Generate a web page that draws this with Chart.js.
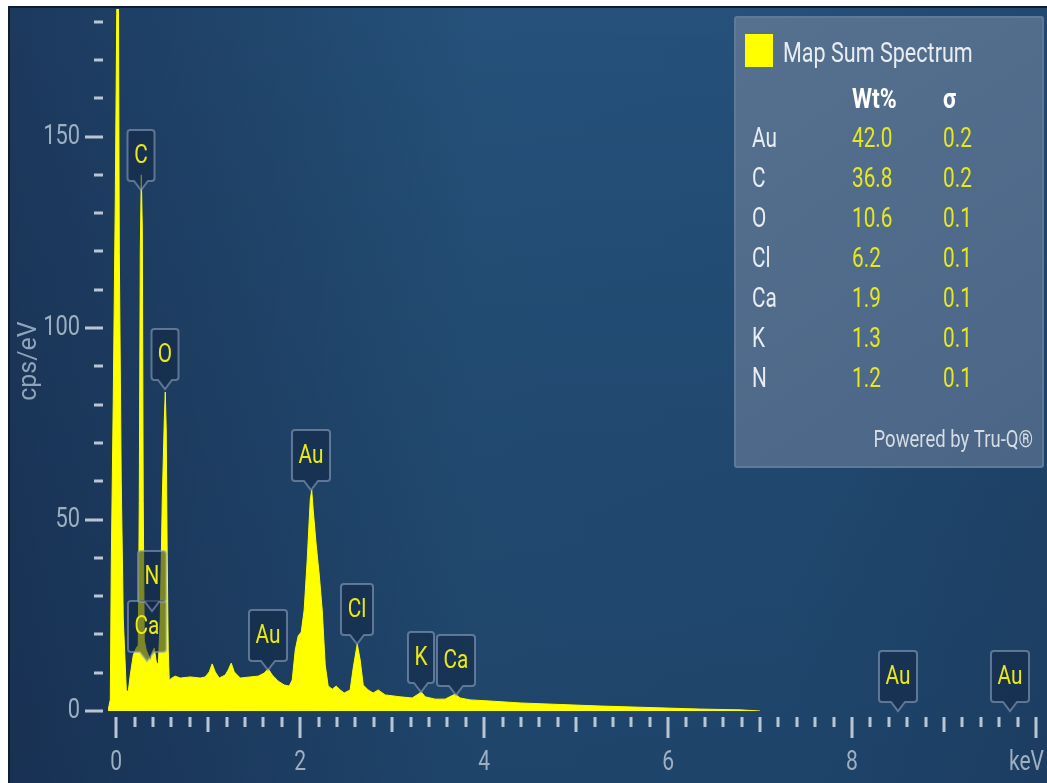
<!DOCTYPE html>
<html>
<head>
<meta charset="utf-8">
<script src="https://cdn.jsdelivr.net/npm/chart.js@4.4.1/dist/chart.umd.min.js"></script>
<style>
  html, body { margin: 0; padding: 0; background: #fff; }
  #wrap { position: relative; width: 1047px; height: 783px; }
</style>
</head>
<body>
<div id="wrap"><canvas id="spectrum" width="1047" height="783"></canvas></div>
<script>
// Spectrum (keV, cps/eV)
const energy = [-0.09, -0.065, -0.054, -0.033, -0.011, 0.011, 0.022, 0.033, 0.054, 0.076,
    0.109, 0.13, 0.152, 0.185, 0.217, 0.239, 0.25, 0.261, 0.272, 0.283,
    0.293, 0.304, 0.326, 0.348, 0.37, 0.391, 0.413, 0.435, 0.457, 0.478,
    0.5, 0.522, 0.533, 0.543, 0.554, 0.565, 0.576, 0.598, 0.641, 0.696,
    0.804, 0.913, 0.967, 1.011, 1.043, 1.076, 1.12, 1.185, 1.217, 1.25,
    1.283, 1.348, 1.457, 1.543, 1.609, 1.652, 1.696, 1.761, 1.826, 1.88,
    1.913, 1.946, 1.978, 2.011, 2.043, 2.076, 2.109, 2.125, 2.141, 2.174,
    2.207, 2.239, 2.272, 2.304, 2.348, 2.391, 2.435, 2.478, 2.543, 2.576,
    2.62, 2.652, 2.685, 2.739, 2.793, 2.848, 2.924, 3.087, 3.217, 3.283,
    3.315, 3.359, 3.467, 3.576, 3.641, 3.685, 3.739, 3.848, 4.065, 4.391,
    4.826, 5.261, 5.804, 6.348, 6.783, 7.0];
const counts = [0, 3, 39, 81, 133, 200, 200, 120, 60, 24,
    5.5, 5, 9.4, 14.6, 16.4, 17.2, 55, 120, 140, 126,
    55, 18.5, 15.9, 14.6, 12.8, 15.4, 16.4, 12.8, 12, 23.8,
    55, 76, 83.3, 73.4, 39.4, 15.9, 8, 8.5, 9.1, 8.6,
    8.9, 8.6, 8.9, 10.2, 12.3, 10.2, 8.6, 9.4, 10.7, 12.5,
    10.2, 8.6, 8.9, 9.1, 9.9, 11, 9.4, 7.8, 6.8, 6.5,
    8.1, 15.9, 19.6, 20.6, 26.4, 39.4, 55.1, 57.7, 52.5, 43.3,
    35.5, 26.4, 12, 6.5, 5.7, 6.5, 5.5, 4.7, 5.5, 11.2,
    17.5, 13.3, 6.8, 5.5, 4.7, 5.5, 4.2, 3.7, 3.4, 4.4,
    5.0, 3.7, 3.1, 3.1, 3.9, 4.4, 3.4, 2.9, 2.6, 2.1,
    1.7, 1.3, 0.9, 0.5, 0.3, 0];

// Peak markers: element, energy (keV), height the pointer touches (cps/eV)
const peakNames  = ['C', 'O', 'Ca', 'N', 'Au', 'Au', 'Cl', 'K', 'Ca', 'Au', 'Au'];
const peakEnergy = [0.272, 0.533, 0.33, 0.386, 1.647, 2.12, 2.62, 3.315, 3.69, 8.505, 9.717];
const peakTip    = [136, 84, 13, 26, 10.7, 57.7, 17.5, 5.0, 4.2, 0, 0];

// Axis ticks
const xMajorTicks  = [0, 2, 4, 6, 8, 10];
const xMajorLabels = ['0', '2', '4', '6', '8', 'keV'];
const yMajorTicks  = [0, 50, 100, 150];
const yMinorStep = 10;
const yMinorMax = 180;
const xMinorStep = 0.2;

// Quant table
const tableElements = ['Au', 'C', 'O', 'Cl', 'Ca', 'K', 'N'];
const tableWt       = ['42.0', '36.8', '10.6', '6.2', '1.9', '1.3', '1.2'];
const tableSigma    = ['0.2', '0.2', '0.1', '0.1', '0.1', '0.1', '0.1'];

const FONT = 'Roboto, "Open Sans", sans-serif';
const SQUEEZE = 0.78;

// Draws text squeezed horizontally (the original UI font is a narrow one)
function narrowText(ctx, text, x, y, align, sx) {
    ctx.save();
    ctx.translate(x, y);
    ctx.scale(sx, 1);
    ctx.textAlign = align;
    ctx.fillText(text, 0, 0);
    ctx.restore();
}

function roundedBox(ctx, left, top, w, h, r) {
    ctx.beginPath();
    ctx.moveTo(left + r, top);
    ctx.lineTo(left + w - r, top);
    ctx.quadraticCurveTo(left + w, top, left + w, top + r);
    ctx.lineTo(left + w, top + h - r);
    ctx.quadraticCurveTo(left + w, top + h, left + w - r, top + h);
    ctx.lineTo(left + r, top + h);
    ctx.quadraticCurveTo(left, top + h, left, top + h - r);
    ctx.lineTo(left, top + r);
    ctx.quadraticCurveTo(left, top, left + r, top);
    ctx.closePath();
}

const backgroundPlugin = {
    id: 'panelBackground',
    beforeDraw(chart) {
        const { ctx, width, height } = chart;
        ctx.save();
        ctx.fillStyle = '#ffffff';
        ctx.fillRect(0, 0, width, height);
        ctx.fillStyle = '#0f1d2e';
        ctx.fillRect(8, 6, width - 8, height - 6);
        const g = ctx.createLinearGradient(10, 0, width, 0);
        g.addColorStop(0, '#1c395e');
        g.addColorStop(0.45, '#25517a');
        g.addColorStop(0.75, '#24507a');
        g.addColorStop(1, '#21486f');
        ctx.fillStyle = g;
        ctx.fillRect(10, 8, width - 10, height - 8);
        const v = ctx.createLinearGradient(0, 8, 0, height);
        v.addColorStop(0, 'rgba(0,0,0,0)');
        v.addColorStop(1, 'rgba(5,12,35,0.18)');
        ctx.fillStyle = v;
        ctx.fillRect(10, 8, width - 10, height - 8);
        ctx.restore();
    },
};

const axesPlugin = {
    id: 'spectrumAxes',
    afterDraw(chart) {
        const { ctx } = chart;
        const xs = chart.scales.x, ys = chart.scales.y;
        ctx.save();
        ctx.fillStyle = '#b9c5d3';

        // y ticks
        for (let v = 0; v <= yMinorMax; v += yMinorStep) {
            const py = Math.round(ys.getPixelForValue(v));
            if (yMajorTicks.includes(v)) ctx.fillRect(85, py - 1.5, 18, 3);
            else ctx.fillRect(94, py - 1.5, 9, 3);
        }
        // x ticks
        const nMinor = Math.round(10 / xMinorStep);
        for (let i = 0; i <= nMinor; i++) {
            const v = i * xMinorStep;
            const px = Math.round(xs.getPixelForValue(v));
            const len = i % 10 === 0 ? 21 : (i % 5 === 0 ? 15 : 10);
            ctx.fillRect(px - 1.5, 717, 3, len);
        }

        // labels
        ctx.fillStyle = '#9eafc2';
        ctx.textBaseline = 'middle';
        ctx.font = '28px ' + FONT;
        yMajorTicks.forEach(v => {
            narrowText(ctx, String(v), 80, ys.getPixelForValue(v), 'right', SQUEEZE);
        });
        ctx.font = '27px ' + FONT;
        xMajorTicks.forEach((v, i) => {
            const last = i === xMajorTicks.length - 1;
            const px = last ? chart.width - 3 : xs.getPixelForValue(v);
            narrowText(ctx, xMajorLabels[i], px, 763, last ? 'right' : 'center', SQUEEZE);
        });

        // y title
        ctx.fillStyle = '#8fa3b9';
        ctx.font = '25px ' + FONT;
        ctx.translate(30, 361);
        ctx.rotate(-Math.PI / 2);
        ctx.textAlign = 'center';
        ctx.fillText('cps/eV', 0, 0);
        ctx.restore();
    },
};

const peakLabelPlugin = {
    id: 'peakLabels',
    afterDatasetsDraw(chart) {
        const { ctx } = chart;
        const xs = chart.scales.x, ys = chart.scales.y;
        ctx.save();
        ctx.font = '26px ' + FONT;
        ctx.textBaseline = 'middle';
        peakNames.forEach((name, i) => {
            const px = Math.round(xs.getPixelForValue(peakEnergy[i]));
            const ty = Math.round(ys.getPixelForValue(peakTip[i]));
            const tw = ctx.measureText(name).width * 0.8;
            const w = Math.round(tw + 13), h = 51;
            const bottom = ty - 9, top = bottom - h, left = px - w / 2, r = 3;
            ctx.beginPath();
            ctx.moveTo(left + r, top);
            ctx.lineTo(left + w - r, top);
            ctx.quadraticCurveTo(left + w, top, left + w, top + r);
            ctx.lineTo(left + w, bottom - r);
            ctx.quadraticCurveTo(left + w, bottom, left + w - r, bottom);
            ctx.lineTo(px + 7, bottom);
            ctx.lineTo(px, ty);
            ctx.lineTo(px - 7, bottom);
            ctx.lineTo(left + r, bottom);
            ctx.quadraticCurveTo(left, bottom, left, bottom - r);
            ctx.lineTo(left, top + r);
            ctx.quadraticCurveTo(left, top, left + r, top);
            ctx.closePath();
            ctx.fillStyle = 'rgba(18,38,68,0.55)';
            ctx.fill();
            ctx.strokeStyle = 'rgba(140,160,188,0.6)';
            ctx.lineWidth = 2;
            ctx.stroke();
            ctx.fillStyle = '#eaea10';
            narrowText(ctx, name, px, top + h / 2 + 1, 'center', 0.8);
        });
        ctx.restore();
    },
};

const tablePlugin = {
    id: 'quantTable',
    afterDraw(chart) {
        const { ctx } = chart;
        ctx.save();
        const g = ctx.createLinearGradient(735, 17, 1043, 467);
        g.addColorStop(0, '#56718f');
        g.addColorStop(1, '#4a6586');
        roundedBox(ctx, 735, 17, 308, 450, 2);
        ctx.fillStyle = g;
        ctx.fill();
        ctx.strokeStyle = '#5f7a99';
        ctx.lineWidth = 2;
        ctx.stroke();

        ctx.fillStyle = '#ffff00';
        ctx.fillRect(745, 34, 28, 33);

        ctx.textBaseline = 'alphabetic';
        ctx.fillStyle = '#e9edf2';
        ctx.font = '28px ' + FONT;
        narrowText(ctx, 'Map Sum Spectrum', 783, 62, 'left', 0.77);

        ctx.fillStyle = '#ffffff';
        ctx.font = 'bold 27px ' + FONT;
        narrowText(ctx, 'Wt%', 852, 108, 'left', 0.85);
        narrowText(ctx, 'σ', 943, 108, 'left', 0.85);

        ctx.font = '27px ' + FONT;
        tableElements.forEach((el, i) => {
            const y = 147 + i * 40;
            ctx.fillStyle = '#e9edf2';
            narrowText(ctx, el, 752, y, 'left', 0.77);
            ctx.fillStyle = '#e6e81e';
            narrowText(ctx, tableWt[i], 852, y, 'left', 0.77);
            narrowText(ctx, tableSigma[i], 943, y, 'left', 0.77);
        });

        ctx.fillStyle = '#d5dce4';
        ctx.font = '24px ' + FONT;
        narrowText(ctx, 'Powered by Tru-Q®', 1033, 447, 'right', 0.77);
        ctx.restore();
    },
};

const ctx = document.getElementById('spectrum').getContext('2d');
const spectrumChart = new Chart(ctx, {
    type: 'line',
    data: {
        datasets: [{
            label: 'Map Sum Spectrum',
            data: energy.map((e, i) => ({ x: e, y: counts[i] })),
            borderColor: '#ffff00',
            backgroundColor: '#ffff00',
            borderWidth: 1,
            pointRadius: 0,
            fill: 'origin',
            tension: 0,
        }],
    },
    options: {
        responsive: false,
        animation: false,
        devicePixelRatio: 1,
        layout: { padding: { left: 108, top: 9, right: 0, bottom: 72 } },
        plugins: {
            legend: { display: false },
            tooltip: { enabled: false },
        },
        scales: {
            x: { type: 'linear', min: -0.09, max: 10.12, display: false },
            y: { type: 'linear', min: 0, max: 183.3, display: false },
        },
    },
    plugins: [backgroundPlugin, peakLabelPlugin, axesPlugin, tablePlugin],
});
</script>
</body>
</html>
